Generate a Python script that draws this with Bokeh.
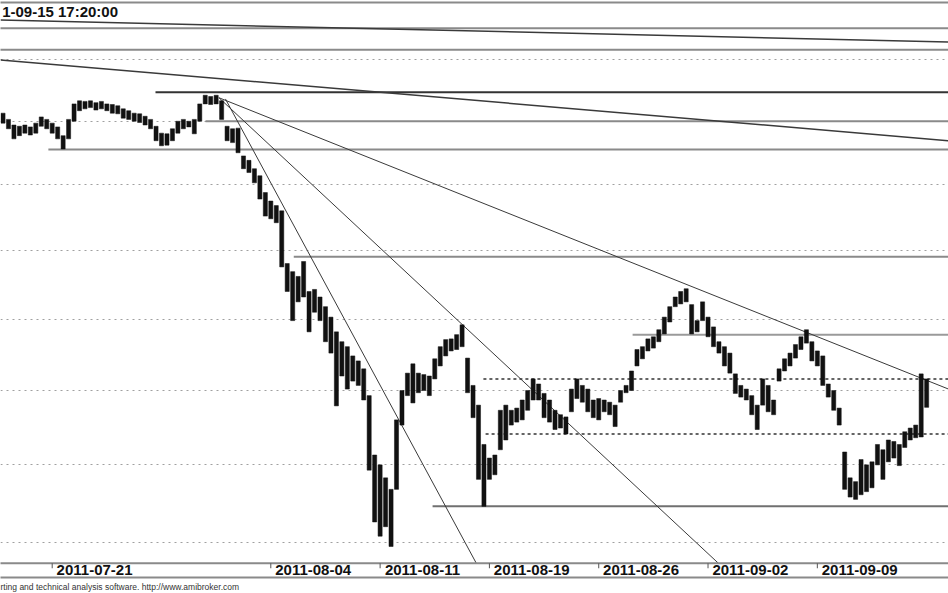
from bokeh.plotting import figure
from bokeh.models import FixedTicker, LinearAxis, Title, Label, Range1d
from bokeh.embed import file_html
from bokeh.resources import INLINE

# ---- price bars (4 bars per trading day, bar index on x) ----
bar_high = [2813, 2803, 2794, 2792, 2794, 2791, 2797, 2807, 2803, 2797,
            2791, 2777, 2803, 2828, 2833, 2832, 2833, 2830, 2832, 2828,
            2827, 2825, 2820, 2817, 2813, 2812, 2808, 2803, 2792, 2781,
            2780, 2788, 2800, 2803, 2800, 2803, 2828, 2842, 2840, 2842,
            2833, 2792, 2788, 2789, 2745, 2738, 2725, 2714, 2688, 2675,
            2668, 2660, 2581, 2569, 2562, 2584, 2540, 2543, 2532, 2518,
            2503, 2482, 2468, 2461, 2448, 2441, 2430, 2393, 2313, 2300,
            2283, 2268, 2360, 2400, 2424, 2437, 2424, 2422, 2420, 2444,
            2461, 2471, 2472, 2478, 2492, 2445, 2407, 2380, 2327, 2309,
            2313, 2373, 2380, 2373, 2376, 2387, 2400, 2416, 2409, 2396,
            2387, 2373, 2367, 2364, 2402, 2416, 2407, 2402, 2387, 2389,
            2387, 2384, 2380, 2400, 2407, 2427, 2457, 2461, 2472, 2475,
            2485, 2503, 2518, 2532, 2540, 2544, 2521, 2498, 2525, 2503,
            2489, 2468, 2461, 2452, 2423, 2407, 2402, 2393, 2380, 2416,
            2407, 2387, 2430, 2444, 2452, 2464, 2475, 2485, 2468, 2455,
            2448, 2409, 2400, 2376, 2317, 2283, 2278, 2307, 2300, 2304,
            2327, 2320, 2333, 2331, 2327, 2344, 2349, 2353, 2423, 2416]
bar_low = [2797, 2788, 2772, 2777, 2781, 2778, 2781, 2792, 2788, 2781,
           2772, 2756, 2772, 2800, 2817, 2820, 2822, 2818, 2820, 2817,
           2813, 2812, 2805, 2803, 2800, 2798, 2794, 2788, 2769, 2761,
           2762, 2769, 2781, 2788, 2791, 2780, 2800, 2828, 2827, 2828,
           2803, 2769, 2766, 2750, 2725, 2719, 2703, 2678, 2652, 2648,
           2642, 2576, 2540, 2498, 2525, 2532, 2482, 2510, 2498, 2468,
           2452, 2379, 2420, 2402, 2413, 2407, 2387, 2293, 2226, 2208,
           2220, 2195, 2268, 2353, 2393, 2383, 2397, 2400, 2393, 2416,
           2434, 2448, 2455, 2457, 2461, 2397, 2363, 2281, 2246, 2281,
           2287, 2320, 2333, 2353, 2357, 2360, 2373, 2387, 2387, 2363,
           2357, 2347, 2349, 2341, 2371, 2389, 2384, 2371, 2363, 2360,
           2371, 2367, 2351, 2384, 2397, 2400, 2434, 2444, 2455, 2459,
           2468, 2479, 2496, 2518, 2522, 2525, 2479, 2482, 2498, 2475,
           2461, 2452, 2434, 2424, 2396, 2391, 2387, 2367, 2347, 2380,
           2371, 2367, 2413, 2427, 2434, 2445, 2457, 2466, 2441, 2434,
           2407, 2391, 2373, 2353, 2268, 2258, 2255, 2261, 2265, 2270,
           2300, 2281, 2304, 2309, 2299, 2323, 2333, 2336, 2337, 2377]
bar_x = list(range(len(bar_high)))

tick_bars = [9, 49, 69, 89, 109, 129, 149]
tick_labels = ["2011-07-21", "2011-08-04", "2011-08-11", "2011-08-19",
               "2011-08-26", "2011-09-02", "2011-09-09"]
grid_levels = [2200, 2300, 2400, 2500, 2600, 2700, 2800, 2900]

# horizontal support / resistance lines (start bar, price)
hline_start = [-1, -1, 27.9, 37.05, 8.3, 53.2, 115.2, 78.6]
hline_price = [2953, 2917, 2847, 2800, 2755, 2591, 2478, 2246]
hline_color = ["#8a8a8a", "#8a8a8a", "#333333", "#8a8a8a", "#8a8a8a", "#8a8a8a", "#9a9a9a", "#707070"]
dash_start = [87.9, 88.3]
dash_price = [2416, 2341]

# trend lines
trend_x0 = [-0.46, -0.46, 39.5, 39.5, 40.7]
trend_y0 = [2967, 2900, 2838, 2838, 2836]
trend_x1 = [173.0, 173.0, 173.0, 130.9, 86.6]
trend_y1 = [2930, 2769, 2402, 2174, 2174]
trend_w = [1.5, 1.5, 1.0, 1.0, 1.0]

x_lo, x_hi = -0.46, 173.0
axis_price = 2174          # level of the date axis line
y_lo, y_hi = 2167.5, 2997  # frame extends a few pixels below it for the tick marks

W, H = 948, 593
p = figure(width=W, height=H, output_backend="svg", toolbar_location=None,
           y_axis_type="log", x_range=Range1d(x_lo, x_hi), y_range=Range1d(y_lo, y_hi),
           min_border=0, min_border_top=2, background_fill_color="white", border_fill_color="white")
p.outline_line_color = None
p.yaxis.visible = False
p.xgrid.visible = False
p.ygrid.ticker = FixedTicker(ticks=grid_levels)
p.ygrid.grid_line_color = "#a0a0a0"
p.ygrid.grid_line_dash = "2 4"
p.ygrid.grid_line_width = 1

def bare_axis(**kw):
    a = LinearAxis(ticker=FixedTicker(ticks=[]), axis_line_color=None,
                   major_tick_out=0, major_tick_in=0, minor_tick_out=0, minor_tick_in=0,
                   major_label_standoff=0)
    for k, v in kw.items():
        setattr(a, k, v)
    return a

# the figure's own x axis carries the date labels, placed to the right of each tick
label_font_px = 15
label_w_px = 76.7 + 8  # approximate label width + gap, in pixels
shift = (label_w_px / 2) * (x_hi - x_lo) / W
label_pos = [t + shift for t in tick_bars]
ax = p.xaxis[0]
ax.ticker = FixedTicker(ticks=label_pos)
ax.major_label_overrides = {lp: l for lp, l in zip(label_pos, tick_labels)}
ax.major_label_text_font = "Liberation Sans"
ax.major_label_text_font_style = "bold"
ax.major_label_text_font_size = f"{label_font_px}px"
ax.major_label_text_color = "#111111"
ax.major_label_standoff = -4
ax.major_tick_in = 0
ax.major_tick_out = 0
ax.minor_tick_out = 0
ax.minor_tick_in = 0
ax.axis_line_color = None

p.add_layout(bare_axis(axis_line_color="#8a8a8a", axis_line_width=2), "below")
p.add_layout(bare_axis(axis_line_color="#8a8a8a", axis_line_width=2), "above")

p.add_layout(Title(text="rting and technical analysis software. http://www.amibroker.com",
                   align="left", text_font="Liberation Sans", text_font_size="8.5px",
                   text_font_style="normal", text_color="#333333", standoff=4, offset=0), "below")

# level lines
p.segment(x0=hline_start, y0=hline_price, x1=[x_hi + 2] * len(hline_price), y1=hline_price,
          line_color=hline_color, line_width=2)
p.segment(x0=dash_start, y0=dash_price, x1=[x_hi + 2] * len(dash_price), y1=dash_price,
          line_color="#333333", line_width=1.5, line_dash="3 3")
p.segment(x0=trend_x0, y0=trend_y0, x1=trend_x1, y1=trend_y1,
          line_color="#3a3a3a", line_width=trend_w)

p.vbar(x=bar_x, top=bar_high, bottom=bar_low, width=0.75, fill_color="#111111",
       line_color="#111111", line_width=0.5)

# date axis: line + downward tick marks
p.quad(left=[x_lo - 2], right=[x_hi + 2], bottom=[y_lo - 5], top=[axis_price],
       fill_color="white", line_color=None)
p.segment(x0=[x_lo - 2], y0=[axis_price], x1=[x_hi + 2], y1=[axis_price],
          line_color="#8a8a8a", line_width=2)
p.segment(x0=tick_bars, y0=[axis_price] * len(tick_bars), x1=tick_bars, y1=[y_lo] * len(tick_bars),
          line_color="#555555", line_width=1)

p.add_layout(Label(x=x_lo + 0.3, y=y_hi, text="1-09-15 17:20:00", text_font="Liberation Sans",
                   text_font_style="bold", text_font_size="15px", text_color="#111111",
                   text_baseline="top"))

open("out.html", "w").write(file_html(p, INLINE))
